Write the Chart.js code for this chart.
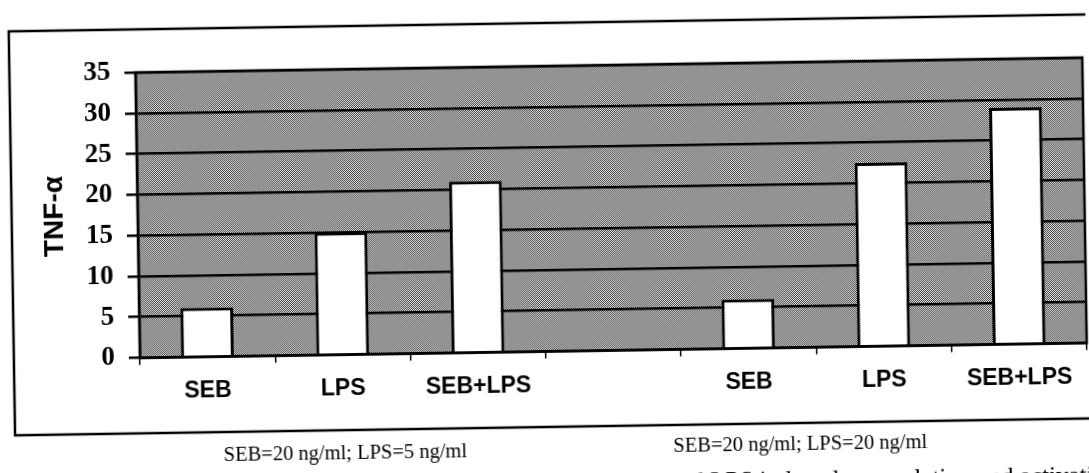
<!DOCTYPE html>
<html>
<head>
<meta charset="utf-8">
<script src="https://cdn.jsdelivr.net/npm/chart.js@4/dist/chart.umd.min.js"></script>
<style>
  html, body { margin:0; padding:0; background:#fff; width:1089px; height:473px; overflow:hidden; }
  #wrap { position:absolute; left:0; top:0; width:1089px; height:473px; transform:rotate(-0.9deg); transform-origin:544px 236px; }
  #c { position:absolute; left:0; top:0; }
  .note { position:absolute; font-family:"Liberation Serif","Times New Roman",serif; font-size:20.5px; color:#000; white-space:nowrap; transform:translate(-50%,-50%); }
  .cap { position:absolute; font-family:"Liberation Serif","Times New Roman",serif; font-size:25px; color:#000; white-space:nowrap; }
</style>
</head>
<body>
<div id="wrap">
  <canvas id="c" width="1089" height="473"></canvas>
  <div class="note" style="left:342px; top:449px;">SEB=20 ng/ml; LPS=5 ng/ml</div>
  <div class="note" style="left:797px; top:447px;">SEB=20 ng/ml; LPS=20 ng/ml</div>
  <div class="cap" style="left:612px; top:470px;">SEB and LPS induced upregulation and activation</div>
</div>
<script>
const categories = ["SEB", "LPS", "SEB+LPS", "", "SEB", "LPS", "SEB+LPS"];
const tnfValues = [6, 15, 21, null, 6, 22.5, 29];
const yTicks = [0, 5, 10, 15, 20, 25, 30, 35];
const yAxisTitle = "TNF-\u03b1";

// dotted grey background pattern
const pc = document.createElement('canvas');
pc.width = 2; pc.height = 2;
const px = pc.getContext('2d');
px.fillStyle = '#f0f0f0'; px.fillRect(0,0,2,2);
px.fillStyle = '#363636'; px.fillRect(0,0,1,1); px.fillRect(1,1,1,1);

const framePlugin = {
  id: 'frame',
  beforeDraw(chart) {
    const ctx = chart.ctx, a = chart.chartArea;
    ctx.save();
    ctx.fillStyle = ctx.createPattern(pc, 'repeat');
    ctx.fillRect(a.left, a.top, a.right - a.left, a.bottom - a.top);
    ctx.strokeStyle = '#000';
    ctx.lineWidth = 2.5;
    ctx.strokeRect(12, 23, 1100, 404);
    ctx.restore();
  },
  afterDatasetsDraw(chart) {
    const ctx = chart.ctx, a = chart.chartArea;
    ctx.save();
    ctx.strokeStyle = '#000';
    ctx.lineWidth = 2.5;
    ctx.strokeRect(a.left, a.top, a.right - a.left, a.bottom - a.top);
    ctx.restore();
  }
};

new Chart(document.getElementById('c'), {
  type: 'bar',
  data: {
    labels: categories,
    datasets: [{
      data: tnfValues,
      backgroundColor: '#ffffff',
      borderColor: '#000000',
      borderWidth: 3,
      categoryPercentage: 1.0,
      barPercentage: 0.39
    }]
  },
  options: {
    responsive: false,
    animation: false,
    devicePixelRatio: 1,
    layout: { padding: { left: 0, top: 66, right: 4, bottom: 0 } },
    plugins: { legend: { display: false }, tooltip: { enabled: false } },
    scales: {
      x: {
        afterFit(s) { s.height = 121.5; },
        grid: { display: true, drawOnChartArea: false, drawTicks: true, tickLength: 7, color: '#000', lineWidth: 1.5, offset: true },
        border: { display: true, color: '#000', width: 2.5 },
        ticks: { color: '#000', padding: 13, maxRotation: 0, autoSkip: false,
                 font: { family: '"Liberation Sans", Arial, sans-serif', size: 23, weight: 'bold' } }
      },
      y: {
        min: 0, max: 35,
        afterFit(s) { s.width = 138; },
        afterBuildTicks(s) { s.ticks = yTicks.map(v => ({ value: v })); },
        grid: { color: '#000', lineWidth: 2.5, tickLength: 11, drawTicks: true },
        border: { display: true, color: '#000', width: 2.5 },
        ticks: { color: '#000', padding: 14,
                 font: { family: '"Liberation Serif", "Times New Roman", serif', size: 27, weight: 'bold' } },
        title: { display: true, text: yAxisTitle, color: '#000', padding: { top: 38, bottom: 0 },
                 font: { family: '"Liberation Sans", Arial, sans-serif', size: 28, weight: 'bold' } }
      }
    }
  },
  plugins: [framePlugin]
});
</script>
</body>
</html>
